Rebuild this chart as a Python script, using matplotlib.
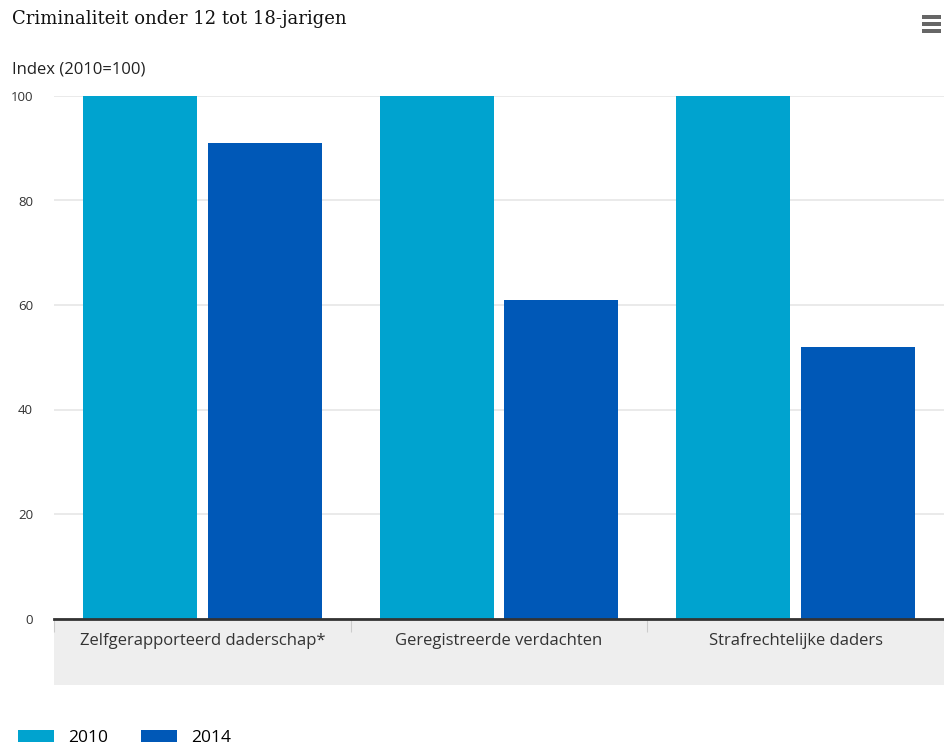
import matplotlib
matplotlib.use("Agg")
import matplotlib.pyplot as plt
from matplotlib.patches import Rectangle
import numpy as np

# data
categorieen = ["Zelfgerapporteerd daderschap*", "Geregistreerde verdachten", "Strafrechtelijke daders"]
jaren = ["2010", "2014"]
waarden_2010 = [100, 100, 100]
waarden_2014 = [91, 61, 52]
y_ticks = [0, 20, 40, 60, 80, 100]

kleur_2010 = "#00a3cf"
kleur_2014 = "#0058b7"

plt.rcParams["font.family"] = ["Open Sans", "DejaVu Sans"]

fig = plt.figure(figsize=(9.44, 7.47), dpi=100)
ax = fig.add_axes([54 / 944, 128.5 / 747, 1 - 54 / 944, 522.5 / 747])

x = np.arange(len(categorieen))
breedte = 0.385
b1 = ax.bar(x - 0.21, waarden_2010, breedte, color=kleur_2010, label=jaren[0], zorder=3)
b2 = ax.bar(x + 0.21, waarden_2014, breedte, color=kleur_2014, label=jaren[1], zorder=3)

ax.set_xlim(-0.5, len(categorieen) - 0.5)
ax.set_ylim(0, 100)
ax.set_yticks(y_ticks)
ax.tick_params(axis="y", length=0, pad=15, labelsize=9.5, labelcolor="#333333")
ax.grid(axis="y", color="#e6e6e6", linewidth=1.2, zorder=0)
ax.set_axisbelow(True)

ax.set_xticks(x)
ax.set_xticklabels(categorieen)
ax.tick_params(axis="x", which="major", length=0, pad=10.5, labelsize=12, labelcolor="#333333")
ax.set_xticks(np.arange(-0.5, len(categorieen) - 0.4, 1), minor=True)
ax.tick_params(axis="x", which="minor", length=9, width=0.8, color="#cccccc", direction="out")

for s in ["top", "right", "left"]:
    ax.spines[s].set_visible(False)
ax.spines["bottom"].set_color("#333333")
ax.spines["bottom"].set_linewidth(2)
ax.spines["bottom"].set_zorder(4)

# grijze band onder de as
ax.add_patch(Rectangle((0, -0.127), 1, 0.124, transform=ax.transAxes,
                       facecolor="#eeeeee", edgecolor="none", clip_on=False, zorder=0))

fig.text(12 / 944, 1 - 19 / 747, "Criminaliteit onder 12 tot 18-jarigen",
         family="DejaVu Serif", fontsize=13, color="#111111",
         va="center", ha="left")
fig.text(12 / 944, 1 - 69 / 747, "Index (2010=100)", fontsize=12, color="#222222",
         va="center", ha="left")

# menu-icoon
for yy in [17, 24, 31]:
    fig.patches.append(Rectangle((922 / 944, 1 - (yy + 2) / 747), 19 / 944, 4 / 747,
                                 transform=fig.transFigure, facecolor="#666666",
                                 edgecolor="none"))

fig.legend(handles=[b1, b2], labels=jaren, loc="lower left", ncol=2,
           bbox_to_anchor=(2 / 944, -15 / 747), frameon=False, fontsize=12.5,
           handlelength=2.1, handleheight=0.7, columnspacing=1.9, handletextpad=0.8)

fig.savefig("out.png", dpi=100)
